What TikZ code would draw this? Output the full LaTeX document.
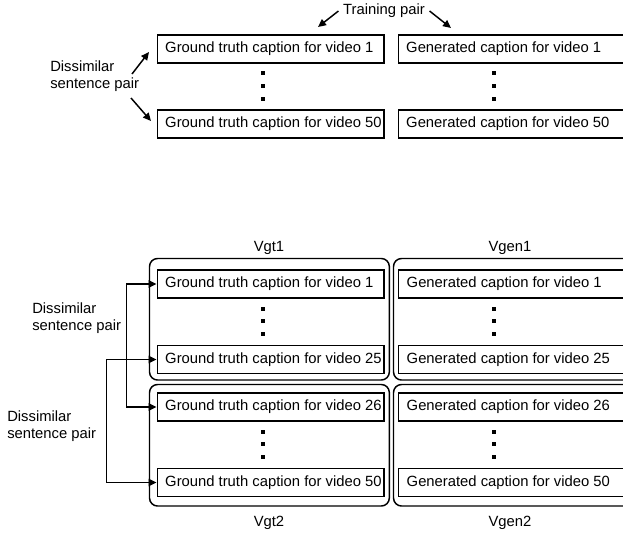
\documentclass[tikz,border=0pt]{standalone}
\usepackage{fontspec}
\setmainfont{Liberation Sans}
\usetikzlibrary{arrows.meta}

\tikzset{
  capbox/.style={draw, line width=1.1pt, anchor=west, minimum width=170pt,
    minimum height=21pt, inner xsep=6pt, inner ysep=0pt, text height=8pt, text depth=2.5pt},
  genbox/.style={capbox, minimum width=180pt},
  grp/.style={draw, line width=1.1pt, rounded corners=6pt},
  vdot/.style={fill, inner sep=0pt, minimum size=2.4pt},
  link/.style={line width=1.1pt, -{Triangle[length=6pt,width=5.5pt]}},
  twolink/.style={line width=1.1pt, {Triangle[length=6pt,width=5.5pt]}-{Triangle[length=6pt,width=5.5pt]}},
  txt/.style={align=left, inner sep=0pt, anchor=west}
}
\newcommand{\captext}[1]{\makebox[158pt][l]{#1}}
\newcommand{\gentext}[1]{\makebox[168pt][l]{#1}}

\begin{document}
\begin{tikzpicture}
            [x=0.75pt, y=-0.75pt, font=\fontsize{11.1}{12.75}\selectfont]
            \useasboundingbox (0,0) rectangle (623,532);

            % Top: training pairs
            \node[capbox] (gtA) at (156.5, 49) {\captext{Ground truth caption for video 1}};
            \node[capbox] (gtB) at (156.5, 124) {\captext{Ground truth caption for video 50}};
            \node[genbox] (genA) at (397.5, 49) {\gentext{Generated caption for video 1}};
            \node[genbox] (genB) at (397.5, 124) {\gentext{Generated caption for video 50}};

            \node (train) at (384, 11) {Training pair};
            \node[txt] (disA) at (50, 76) {Dissimilar\\sentence pair};

            \coordinate (trainL) at (318, 27);
            \coordinate (trainR) at (451, 28);
            \coordinate (disUp) at (132, 74);
            \coordinate (disDown) at (131, 98);
            \coordinate (toA) at (149, 52);
            \coordinate (toB) at (151, 121);

            \draw[link] (train.west) -- (trainL);
            \draw[link] (train.east) -- (trainR);
            \draw[link] (disUp) -- (toA);
            \draw[link] (disDown) -- (toB);

            % Bottom: split in two halves
            \draw[grp] (149.5, 258.5) rectangle (389.3, 380);
            \draw[grp] (149.5, 384.5) rectangle (389.3, 506);
            \draw[grp] (393.5, 258.5) rectangle (640, 380);
            \draw[grp] (393.5, 384.5) rectangle (640, 506);

            \node (vgtA) at (269, 248) {Vgt1};
            \node (vgenA) at (510, 248) {Vgen1};
            \node (vgtB) at (269, 523) {Vgt2};
            \node (vgenB) at (510, 523) {Vgen2};

            \node[capbox] (gt1) at (156.5, 284) {\captext{Ground truth caption for video 1}};
            \node[capbox] (gt25) at (156.5, 359.5) {\captext{Ground truth caption for video 25}};
            \node[capbox] (gt26) at (156.5, 407) {\captext{Ground truth caption for video 26}};
            \node[capbox] (gt50) at (156.5, 482.5) {\captext{Ground truth caption for video 50}};
            \node[genbox] (gen1) at (398, 284) {\gentext{Generated caption for video 1}};
            \node[genbox] (gen25) at (398, 359.5) {\gentext{Generated caption for video 25}};
            \node[genbox] (gen26) at (398, 407) {\gentext{Generated caption for video 26}};
            \node[genbox] (gen50) at (398, 482.5) {\gentext{Generated caption for video 50}};

            \node[txt] (disB) at (32, 318) {Dissimilar\\sentence pair};
            \node[txt] (disC) at (7, 426) {Dissimilar\\sentence pair};

            \draw[twolink] (gt1.west) -- ++(-30, 0) |- (gt26.west);
            \draw[twolink] (gt25.west) -- ++(-50, 0) |- (gt50.west);

            % Vertical dots
            \foreach \x in {263, 494}
              \foreach \y in {73, 86, 99, 309, 321, 334, 432, 444, 457}
                \node[vdot] at (\x, \y) {};
        \end{tikzpicture}
\end{document}
